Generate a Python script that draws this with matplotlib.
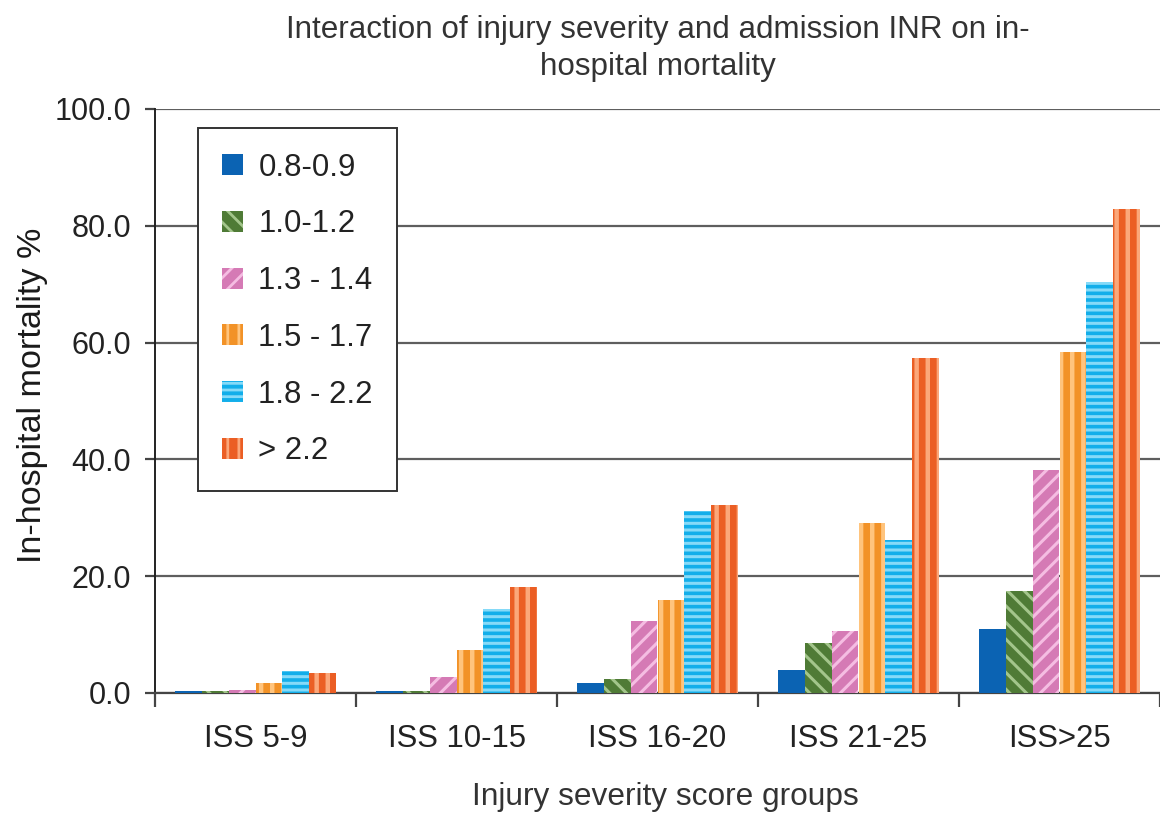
import numpy as np
import matplotlib as mpl
import matplotlib.pyplot as plt
from matplotlib.ticker import FormatStrFormatter, FixedLocator

plt.rcParams['font.family'] = ['Liberation Sans', 'DejaVu Sans']

# data
groups = ['ISS 5-9', 'ISS 10-15', 'ISS 16-20', 'ISS 21-25', 'ISS>25']
inr_labels = ['0.8-0.9', '1.0-1.2', '1.3 - 1.4', '1.5 - 1.7', '1.8 - 2.2', '> 2.2']
inr_08_09 = [0.4, 0.4, 1.7, 3.9, 11.0]
inr_10_12 = [0.4, 0.4, 2.4, 8.5, 17.5]
inr_13_14 = [0.5, 2.8, 12.4, 10.7, 38.2]
inr_15_17 = [1.7, 7.4, 15.9, 29.1, 58.4]
inr_18_22 = [3.8, 14.4, 31.2, 26.2, 70.4]
inr_gt_22 = [3.5, 18.2, 32.2, 57.4, 82.9]

series = [inr_08_09, inr_10_12, inr_13_14, inr_15_17, inr_18_22, inr_gt_22]
# (face colour, stripe colour, hatch, stripe width)
styles = [
    ('#0B63B3', '#0B63B3', None, 1.0),
    ('#4F7B36', '#A3C58B', '\\\\\\\\', 1.1),
    ('#D57AB5', '#F5BDE2', '////', 1.1),
    ('#F29227', '#FFC47D', '|||', 1.6),
    ('#12AEEA', '#85DAF8', '-----', 1.1),
    ('#EB5E24', '#FBA77A', '|||', 1.6),
]

fig = plt.figure(figsize=(5.8, 4.08), dpi=200)
ax = fig.add_axes([155/1160, 1 - 693/816, 1 - 155/1160, (693 - 109)/816])

x = np.arange(len(groups)) + 0.5
w = 0.134
for i, (vals, lab, (fc, hc, h, hw)) in enumerate(zip(series, inr_labels, styles)):
    with mpl.rc_context({'hatch.linewidth': hw}):
        bars = ax.bar(x + (i - 2.5) * w, vals, width=w, color=fc, edgecolor=hc,
                      hatch=h, linewidth=0, label=lab, zorder=3)
    for b in bars:
        if hasattr(b, 'set_hatch_linewidth'):
            b.set_hatch_linewidth(hw)

ax.set_xlim(0, 5)
ax.set_ylim(0, 100)
ax.set_yticks(np.arange(0, 101, 20))
ax.yaxis.set_major_formatter(FormatStrFormatter('%.1f'))
ax.grid(axis='y', color='#5e5e5e', linewidth=0.8, zorder=0)
ax.set_axisbelow(True)
for s in ['top', 'right']:
    ax.spines[s].set_visible(False)
ax.spines['left'].set_color('#222222')
ax.spines['bottom'].set_color('#444444')
ax.spines['left'].set_linewidth(0.7)
ax.spines['bottom'].set_linewidth(0.8)

ax.set_xticks(x)
ax.set_xticklabels(groups)
ax.xaxis.set_minor_locator(FixedLocator(np.arange(0, 6)))
ax.tick_params(axis='x', which='major', length=0, pad=11, labelsize=11.2, labelcolor='#222222')
ax.tick_params(axis='x', which='minor', length=5, width=0.8, color='#444444', direction='out')
ax.tick_params(axis='y', length=3.6, width=0.8, pad=5, labelsize=11, labelcolor='#222222', color='#444444')

leg = ax.legend(loc='upper left', bbox_to_anchor=(0.043, 0.967), fontsize=11.2,
                handlelength=0.65, handleheight=0.65, handletextpad=0.5,
                labelspacing=0.86, borderpad=0.78, borderaxespad=0,
                fancybox=False, framealpha=1, edgecolor='#333333')
leg.get_frame().set_linewidth(0.7)
for t in leg.get_texts():
    t.set_color('#222222')

fig.text(0.567, 1 - 15/816,
         'Interaction of injury severity and admission INR on in-\nhospital mortality',
         ha='center', va='top', fontsize=11.3, linespacing=1.3, color='#333333')
fig.text(665/1160, 1 - 797/816, 'Injury severity score groups',
         ha='center', va='center', fontsize=11.4, color='#333333')
fig.text(33/1160, 1 - 395/816, 'In-hospital mortality %', rotation=90,
         ha='center', va='center', fontsize=12.3, color='#1a1a1a')

fig.savefig('out.png', dpi=200)
